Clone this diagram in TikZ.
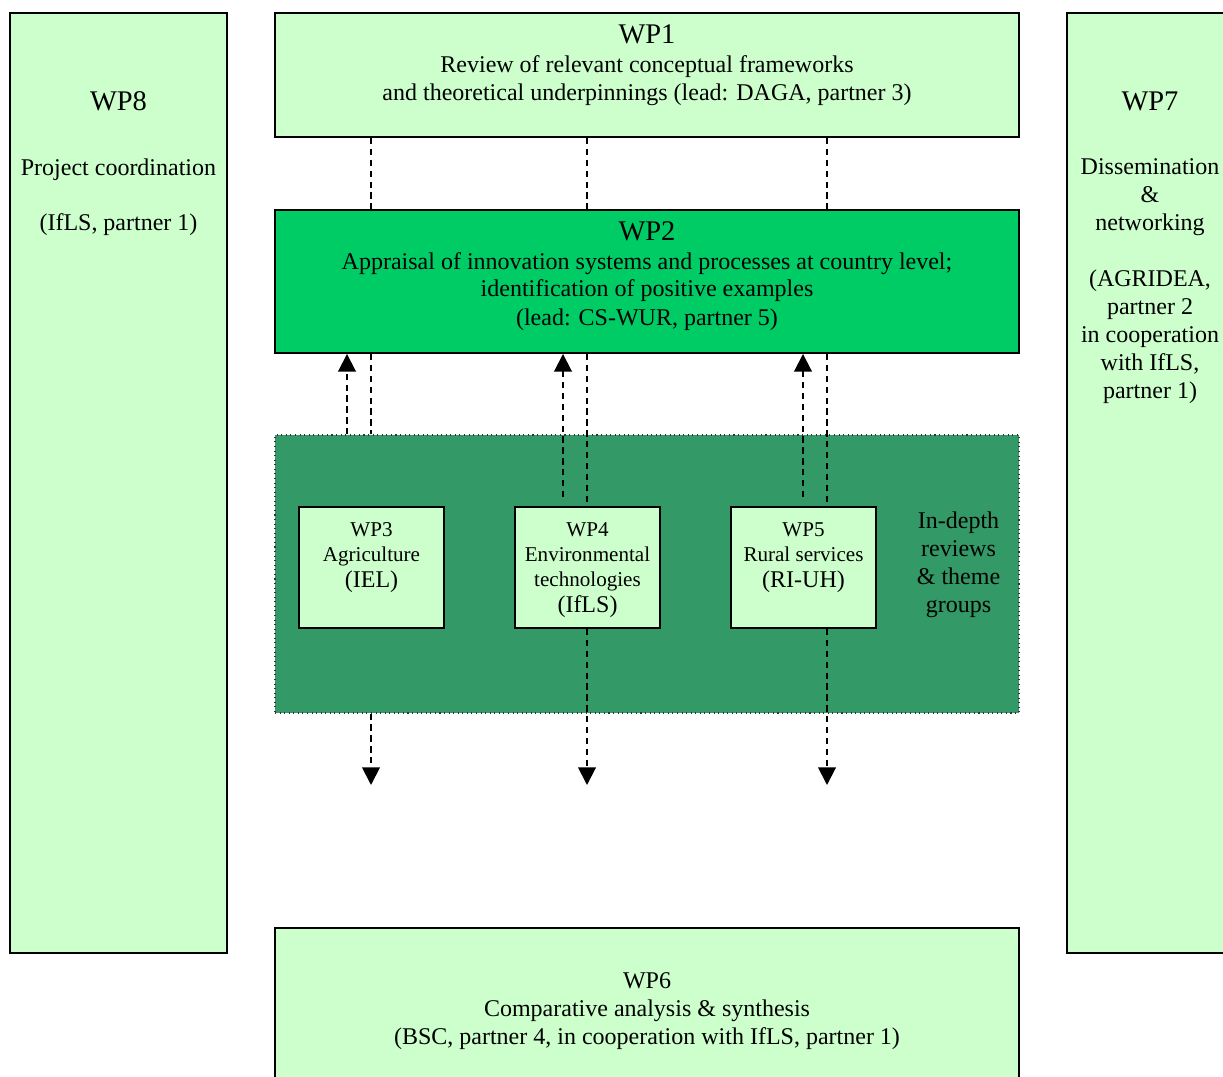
\documentclass[tikz,border=0pt]{standalone}
\usepackage{fontspec}
\setmainfont{Liberation Serif}
\usetikzlibrary{arrows.meta, positioning}

\definecolor{wplight}{HTML}{CCFFCC}
\definecolor{wpmid}{HTML}{00CC66}
\definecolor{wpdark}{HTML}{339966}
\newcommand{\pxu}{0.02cm}
\newcommand{\bigwp}{\fontsize{16.2}{15.93}\selectfont}
\newcommand{\normwp}{\fontsize{13.66}{15.93}\selectfont}

\begin{document}
\begin{tikzpicture}[x=0.02cm, y=-0.02cm,
    wpbox/.style={draw=black, line width=1.1pt, fill=wplight, inner sep=0pt},
    wptext/.style={align=center, font=\normwp, inner sep=0pt},
    smalltext/.style={align=center, font=\fontsize{12}{14.2}\selectfont, inner sep=0pt},
    link/.style={dash pattern=on 3.6pt off 2.6pt, line width=1.1pt},
    linkarrow/.style={link, -{Triangle[length=10pt, width=10pt]}}]

\clip (0,0) rectangle (1223,1077);

        \node[wpbox, minimum width=217*\pxu, minimum height=940*\pxu] (wp8) at (118.5,483) {};
        \node[wpbox, minimum width=173*\pxu, minimum height=940*\pxu] (wp7) at (1153.5,483) {};
        \node[wpbox, minimum width=744*\pxu, minimum height=124*\pxu] (wp1) at (647,75) {};
        \node[wpbox, fill=wpmid, minimum width=744*\pxu, minimum height=143*\pxu] (wp2) at (647,281.5) {};
        \node[wpbox, fill=wpdark, draw=black!80, line width=0.6pt, dotted,
            minimum width=744*\pxu, minimum height=278*\pxu] (rev) at (647,574) {};
        \node[wpbox, minimum width=744*\pxu, minimum height=162*\pxu] (wp6) at (647,1009) {};

        \foreach \cx/\nm in {371.5/wp3, 587.5/wp4, 803.5/wp5}
        \node[wpbox, minimum width=145*\pxu, minimum height=121*\pxu] (\nm) at (\cx,567.5) {};

        % texts
        \node[wptext, below=1.58cm of wp8.north, anchor=north] (wp8t)
            {{\bigwp WP8}\\[21pt] Project coordination\\[15.4pt] (IfLS, partner 1)};
        \node[wptext, below=1.58cm of wp7.north, xshift=-3.5*\pxu, anchor=north] (wp7t)
            {{\bigwp WP7}\\[21pt] Dissemination\\ \&\\ networking\\[16pt] (AGRIDEA,\\ partner 2\\ in cooperation\\ with IfLS,\\ partner 1)};
        \node[wptext, below=0.25cm of wp1.north, anchor=north] (wp1t)
            {{\bigwp WP1}\\[0.5pt] Review of relevant conceptual frameworks\\ and theoretical underpinnings (lead: DAGA, partner 3)};
        \node[wptext, below=0.24cm of wp2.north, anchor=north] (wp2t)
            {{\bigwp WP2}\\[0.6pt] Appraisal of innovation systems and processes at country level;\\[-0.6pt] identification of positive examples\\[0.6pt] (lead: CS-WUR, partner 5)};
        \node[wptext, below=0.9cm of wp6.north, anchor=north] (wp6t)
            {WP6\\ Comparative analysis \& synthesis\\ (BSC, partner 4, in cooperation with IfLS, partner 1)};
        \node[smalltext, below=0.32cm of wp3.north, anchor=north] (wp3t)
            {WP3\\ Agriculture\\[1pt] {\normwp (IEL)}};
        \node[smalltext, below=0.32cm of wp4.north, anchor=north] (wp4t)
            {WP4\\ Environmental\\ technologies\\[1pt] {\normwp (IfLS)}};
        \node[smalltext, below=0.32cm of wp5.north, anchor=north] (wp5t)
            {WP5\\ Rural services\\[1pt] {\normwp (RI-UH)}};
        \node[wptext] (revt) at (958.5,565) {In-depth\\ reviews\\ \& theme\\ groups};

        % link columns
        \foreach \cx/\cn in {371/a, 587/b, 827/c}
        \coordinate (col\cn) at (\cx,0);
        \foreach \cx/\cn in {347/a, 563/b, 803/c}
        \coordinate (up\cn) at (\cx,0);
        \foreach \cx/\cn in {371/a, 587/b, 827/c}
        \coordinate (end\cn) at (\cx,785);

        \foreach \cn in {a,b,c}
        \draw[link] (wp1.south -| col\cn) -- (wp2.north -| col\cn);

        \draw[link] (wp2.south -| cola) -- (rev.north -| cola);
        \draw[link] (wp2.south -| colb) -- (wp4.north -| colb);
        \draw[link] (wp2.south -| colc) -- (wp5.north -| colc);

        \draw[linkarrow] (rev.south -| cola) -- (enda);
        \draw[linkarrow] (wp4.south -| colb) -- (endb);
        \draw[linkarrow] (wp5.south -| colc) -- (endc);

        \draw[linkarrow] (rev.north -| upa) -- (wp2.south -| upa);
        \draw[linkarrow, shorten <=5pt] (wp4.north -| upb) -- (wp2.south -| upb);
        \draw[linkarrow, shorten <=5pt] (wp5.north -| upc) -- (wp2.south -| upc);
\end{tikzpicture}
\end{document}
